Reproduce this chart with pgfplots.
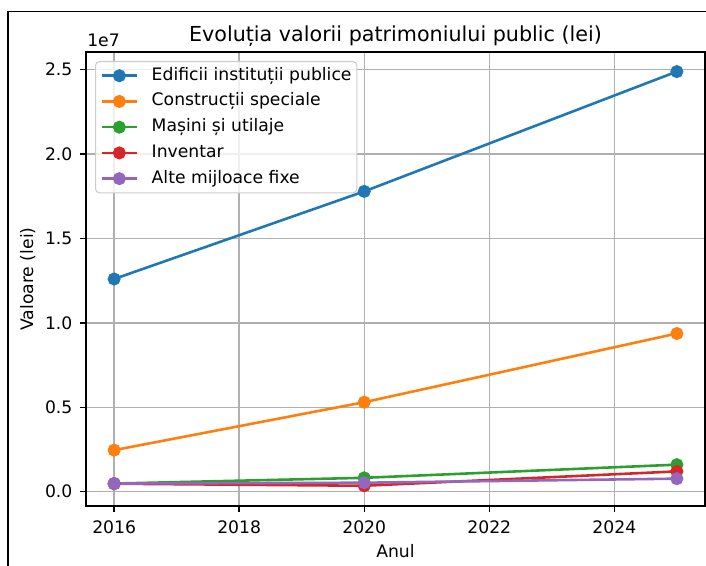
\documentclass[border=0pt]{standalone}
\usepackage{fontspec}
\setmainfont{DejaVu Sans}
\usepackage{pgfplots}
\pgfplotsset{compat=1.18}
\definecolor{c1}{HTML}{1F77B4}
\definecolor{c2}{HTML}{FF7F0E}
\definecolor{c3}{HTML}{2CA02C}
\definecolor{c4}{HTML}{D62728}
\definecolor{c5}{HTML}{9467BD}
\definecolor{gridgray}{HTML}{B0B0B0}
\definecolor{leggray}{HTML}{CCCCCC}
\begin{document}
\begin{tikzpicture}
\useasboundingbox (0pt,0pt) rectangle (529.5pt,-424.5pt);
\draw[black, line width=1.2pt] (6.2pt,-440pt) -- (6.2pt,-8.5pt) -- (540pt,-8.5pt);
\begin{axis}[
  at={(64.5pt,-379.5pt)}, anchor=south west,
  scale only axis, width=464.25pt, height=340.5pt,
  xmin=2015.55, xmax=2025.45, ymin=-850000, ymax=26050000,
  xtick={2016,2018,2020,2022,2024}, xticklabels={2016,2018,2020,2022,2024},
  ytick={0,5000000,10000000,15000000,20000000,25000000},
  yticklabels={0.0,0.5,1.0,1.5,2.0,2.5},
  scaled ticks=false,
  tick pos=left,
  tick align=outside, major tick length=4.5pt,
  tick style={black, line width=1.03pt},
  axis line style={black, line width=1.03pt},
  grid=major, major grid style={color=gridgray, line width=1.03pt},
  ticklabel style={font=\fontsize{12.9}{15}\selectfont, inner sep=0pt},
  xticklabel shift=6pt, yticklabel shift=5.5pt,
  legend cell align=left,
  legend style={at={(0,1)}, anchor=north west, xshift=6.75pt, yshift=-6.75pt,
    draw=leggray, line width=0.8pt, rounded corners=3pt, fill=white,
    fill opacity=0.8, text opacity=1, inner xsep=4pt, inner ysep=4.5pt,
    row sep=7pt, column sep=10.4pt,
    font=\fontsize{12.9}{15}\selectfont,
    nodes={inner sep=0pt, text height=9.5pt, text depth=2.8pt}},
  legend image code/.code={\draw[fill opacity=1, draw opacity=1, mark repeat=2, mark phase=2] plot coordinates {(0pt,0pt)(12.9pt,0pt)(25.8pt,0pt)};},
  every axis plot/.append style={line width=1.94pt, mark=*, mark size=3.9pt},
]
\addplot[c1, mark options={solid, fill=c1, draw=c1}] coordinates {(2016,12600000)(2020,17790000)(2025,24890000)};
\addlegendentry{Edificii instituții publice}
\addplot[c2, mark options={solid, fill=c2, draw=c2}] coordinates {(2016,2460000)(2020,5300000)(2025,9370000)};
\addlegendentry{Construcții speciale}
\addplot[c3, mark options={solid, fill=c3, draw=c3}] coordinates {(2016,480000)(2020,820000)(2025,1600000)};
\addlegendentry{Mașini și utilaje}
\addplot[c4, mark options={solid, fill=c4, draw=c4}] coordinates {(2016,470000)(2020,350000)(2025,1200000)};
\addlegendentry{Inventar}
\addplot[c5, mark options={solid, fill=c5, draw=c5}] coordinates {(2016,480000)(2020,530000)(2025,770000)};
\addlegendentry{Alte mijloace fixe}
\end{axis}
\node[anchor=base, font=\fontsize{15.5}{18}\selectfont] at (296.6pt,-31.1pt) {Evoluția valorii patrimoniului public (lei)};
\node[anchor=base west, inner sep=0pt, font=\fontsize{12.9}{15}\selectfont] at (65.25pt,-35.25pt) {1e7};
\node[anchor=base, rotate=90, inner sep=0pt, font=\fontsize{12.9}{15}\selectfont] at (24.75pt,-209.25pt) {Valoare (lei)};
\node[anchor=base, inner sep=0pt, font=\fontsize{12.9}{15}\selectfont] at (296.6pt,-417.75pt) {Anul};
\end{tikzpicture}
\end{document}
